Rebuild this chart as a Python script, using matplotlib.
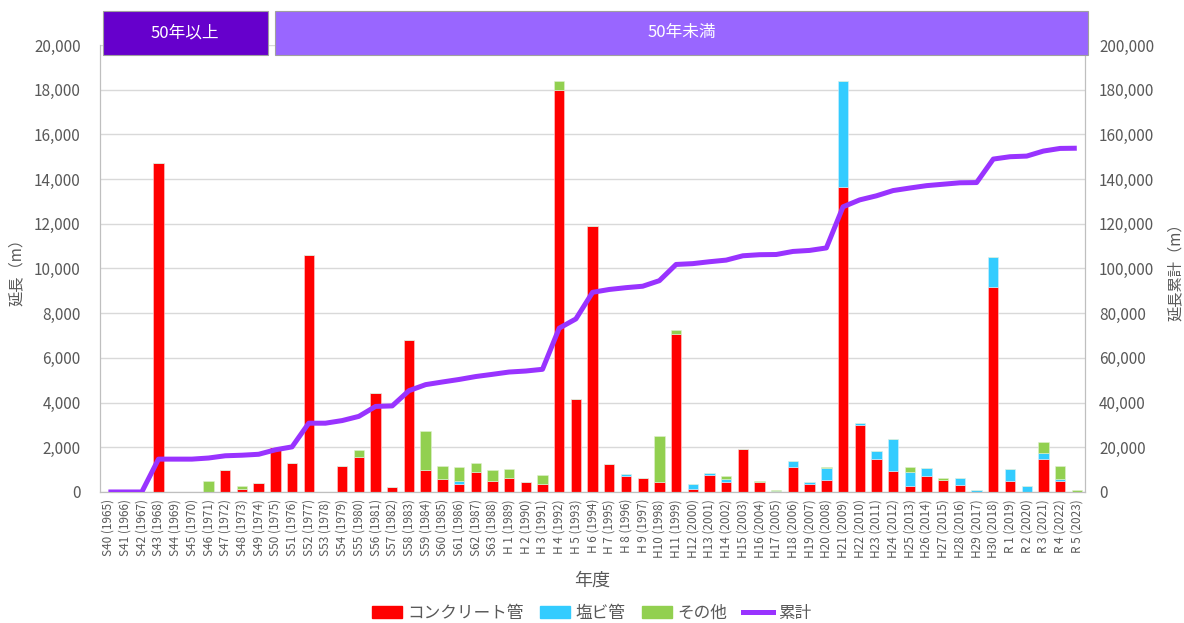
import numpy as np
import matplotlib.pyplot as plt
from matplotlib.patches import Rectangle
from matplotlib.lines import Line2D
import matplotlib.transforms as mtransforms

plt.rcParams['font.family'] = ['Noto Sans CJK JP', 'DejaVu Sans']

# -------  Data ------- #

years = [
    "S40 (1965)", "S41 (1966)", "S42 (1967)", "S43 (1968)", "S44 (1969)", "S45 (1970)",
    "S46 (1971)", "S47 (1972)", "S48 (1973)", "S49 (1974)", "S50 (1975)", "S51 (1976)",
    "S52 (1977)", "S53 (1978)", "S54 (1979)", "S55 (1980)", "S56 (1981)", "S57 (1982)",
    "S58 (1983)", "S59 (1984)", "S60 (1985)", "S61 (1986)", "S62 (1987)", "S63 (1988)",
    "H 1 (1989)", "H 2 (1990)", "H 3 (1991)", "H 4 (1992)", "H 5 (1993)", "H 6 (1994)",
    "H 7 (1995)", "H 8 (1996)", "H 9 (1997)", "H10 (1998)", "H11 (1999)", "H12 (2000)",
    "H13 (2001)", "H14 (2002)", "H15 (2003)", "H16 (2004)", "H17 (2005)", "H18 (2006)",
    "H19 (2007)", "H20 (2008)", "H21 (2009)", "H22 (2010)", "H23 (2011)", "H24 (2012)",
    "H25 (2013)", "H26 (2014)", "H27 (2015)", "H28 (2016)", "H29 (2017)", "H30 (2018)",
    "R 1 (2019)", "R 2 (2020)", "R 3 (2021)", "R 4 (2022)", "R 5 (2023)",
]

concrete = [
    0, 0, 0, 14700, 0, 0,
    0, 1000, 150, 420, 2000, 1310,
    10600, 0, 1170, 1550, 4450, 240,
    6800, 990, 570, 370, 880, 500,
    610, 450, 340, 18000, 4150, 11900,
    1270, 720, 640, 430, 7070, 150,
    750, 430, 1940, 450, 0, 1130,
    370, 520, 13650, 2980, 1460, 950,
    250, 700, 520, 300, 0, 9170,
    500, 0, 1460, 470, 20,
]

pvc = [
    0, 0, 0, 0, 0, 0,
    0, 0, 0, 0, 0, 0,
    0, 0, 0, 0, 0, 0,
    0, 0, 0, 100, 0, 0,
    0, 0, 0, 0, 0, 0,
    0, 70, 0, 0, 0, 220,
    100, 130, 0, 0, 50, 240,
    90, 540, 4750, 120, 360, 1400,
    630, 360, 0, 345, 80, 1340,
    550, 260, 270, 110, 0,
]

other = [
    0, 0, 0, 0, 0, 0,
    500, 0, 100, 0, 0, 0,
    0, 0, 0, 330, 0, 0,
    0, 1720, 610, 660, 430, 490,
    420, 0, 430, 400, 0, 0,
    0, 20, 0, 2060, 180, 0,
    0, 165, 0, 30, 40, 0,
    0, 50, 0, 0, 0, 0,
    255, 0, 120, 0, 20, 0,
    0, 20, 520, 600, 80,
]

series_names = ["コンクリート管", "塩ビ管", "その他", "累計"]
colors = ["#FF0000", "#33CCFF", "#92D050", "#9933FF"]

concrete = np.array(concrete)
pvc = np.array(pvc)
other = np.array(other)
cumulative = np.cumsum(concrete + pvc + other)

# -------  Plot ------- #

fig = plt.figure(figsize=(11.84, 6.23), dpi=100)
ax = fig.add_axes([0.0845, 0.2103, 0.832, 0.7175])
ax2 = ax.twinx()

x = np.arange(len(years))
w = 0.62
ax.bar(x, concrete, w, color=colors[0], edgecolor="#FFD0D0", linewidth=0.4, zorder=2)
ax.bar(x, pvc, w, bottom=concrete, color=colors[1], edgecolor="#D0F0FF", linewidth=0.4, zorder=2)
ax.bar(x, other, w, bottom=concrete + pvc, color=colors[2], edgecolor="#E0F0D0", linewidth=0.4, zorder=2)

ax2.plot(x, cumulative, color=colors[3], lw=3.6, solid_capstyle="butt", zorder=3)

grey = "#595959"
ax.set_xlim(-0.5, len(years) - 0.5)
ax.set_ylim(0, 20000)
ax.set_yticks(np.arange(0, 20001, 2000))
ax.set_yticklabels([f"{v:,}" for v in range(0, 20001, 2000)], fontsize=11, color=grey)
ax2.set_ylim(0, 200000)
ax2.set_yticks(np.arange(0, 200001, 20000))
ax2.set_yticklabels([f"{v:,}" for v in range(0, 200001, 20000)], fontsize=11, color=grey)

ax.set_xticks(x)
ax.set_xticklabels(years, rotation=90, fontsize=8.5, color=grey)
ax.tick_params(axis="both", length=0)
ax2.tick_params(axis="both", length=0)
ax.tick_params(axis="x", pad=5)
ax.tick_params(axis="y", pad=14)
ax2.tick_params(axis="y", pad=10)

ax.grid(axis="y", color="#D9D9D9", lw=1, zorder=0)
ax.set_axisbelow(True)
for a in (ax, ax2):
    a.spines["top"].set_visible(False)
    for s in ("left", "right", "bottom"):
        a.spines[s].set_color("#BFBFBF")

ax.set_ylabel("延長（m）", fontsize=11, color=grey)
ax.yaxis.set_label_coords(-0.076, 0.5)
ax2.set_ylabel("延長累計（m）", fontsize=11, color=grey)
ax2.yaxis.set_label_coords(1.083, 0.5)
ax.set_xlabel("年度", fontsize=13, color=grey, labelpad=10)

# header boxes (x in data, y in axes fraction)
trans = mtransforms.blended_transform_factory(ax.transData, ax.transAxes)
headers = [("50年以上", -0.35, 9.55, "#6600CC"), ("50年未満", 10.0, 58.7, "#9966FF")]
for label, x0, x1, c in headers:
    ax2.add_patch(Rectangle((x0, 0.978), x1 - x0, 0.098, transform=trans,
                            facecolor=c, edgecolor="#A0A0A0", lw=0.8, clip_on=False, zorder=5))
    ax2.text((x0 + x1) / 2, 1.027, label, transform=trans, ha="center", va="center",
             color="white", fontsize=12, zorder=6)

handles = [Rectangle((0, 0), 1, 1, color=colors[0]),
           Rectangle((0, 0), 1, 1, color=colors[1]),
           Rectangle((0, 0), 1, 1, color=colors[2]),
           Line2D([0], [0], color=colors[3], lw=3.6)]
fig.legend(handles, series_names, loc="lower center", bbox_to_anchor=(0.5, -0.022), ncol=4,
           frameon=False, fontsize=12, handlelength=1.8, handletextpad=0.3, columnspacing=1.0,
           labelcolor=grey)

fig.savefig("out.png", dpi=100)
